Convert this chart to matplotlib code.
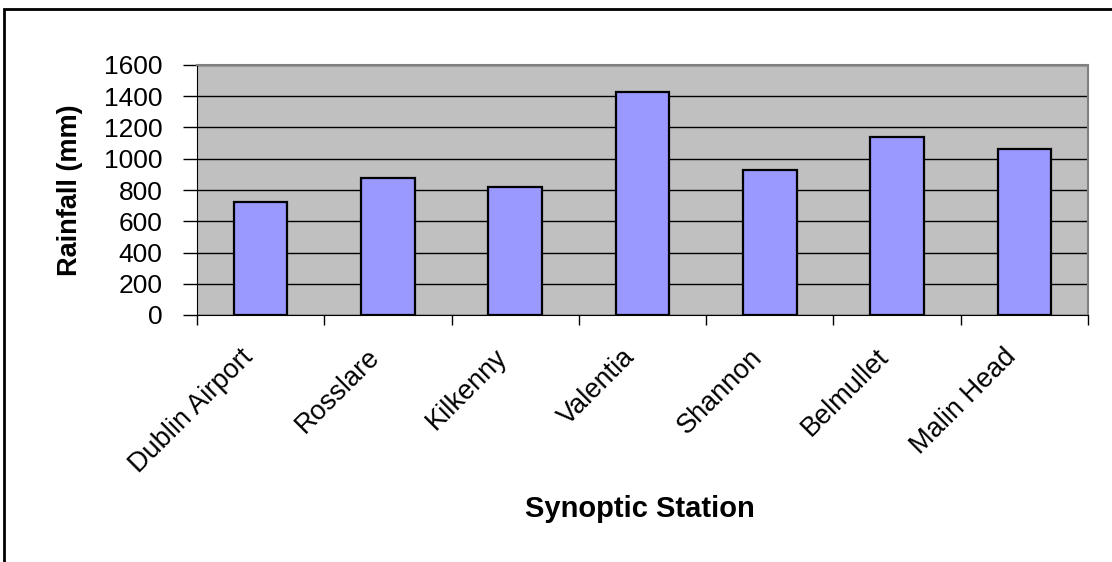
import matplotlib.pyplot as plt
from matplotlib.patches import Rectangle
from matplotlib.transforms import ScaledTranslation

stations = ['Dublin Airport', 'Rosslare', 'Kilkenny', 'Valentia', 'Shannon', 'Belmullet', 'Malin Head']
rainfall = [725, 875, 821, 1425, 928, 1141, 1062]
yticks = [0, 200, 400, 600, 800, 1000, 1200, 1400, 1600]

plt.rcParams['font.family'] = ['Liberation Sans', 'DejaVu Sans']

fig = plt.figure(figsize=(11.12, 5.62), dpi=100)
ax = fig.add_axes([197 / 1112, 1 - 315 / 562, (1088 - 197) / 1112, (315 - 65) / 562])

# outer chart border, clipped at right and bottom like the reference
fig.patches.append(Rectangle((4 / 1112, -0.05), 1.2, 1 - 9 / 562 + 0.05, transform=fig.transFigure,
                             fill=False, edgecolor='black', linewidth=2, zorder=0))

x = list(range(len(stations)))
ax.set_facecolor('#C0C0C0')
ax.bar(x, rainfall, width=0.42, color='#9999FF', edgecolor='black', linewidth=1.6, zorder=3)

ax.set_xlim(-0.5, len(stations) - 0.5)
ax.set_ylim(0, 1600)
ax.set_yticks(yticks)
ax.yaxis.grid(True, color='black', linewidth=1, zorder=0)
ax.set_axisbelow(True)

ax.set_xticks(x)
ax.set_xticklabels(stations, rotation=45, ha='right', rotation_mode='anchor', fontsize=19.5)
ax.set_xticks([i + 0.5 for i in range(-1, len(stations))], minor=True)
ax.tick_params(axis='x', which='major', length=0, pad=10)
ax.tick_params(axis='x', which='minor', length=7, width=1, direction='out')
ax.tick_params(axis='y', length=10, width=1, labelsize=19, pad=15)

# nudge rotated labels left/down like Excel places them
shift = ScaledTranslation(-21 / 100, -15 / 100, fig.dpi_scale_trans)
for lab in ax.get_xticklabels():
    lab.set_transform(lab.get_transform() + shift)

for side in ['top', 'right']:
    ax.spines[side].set_color('#808080')
    ax.spines[side].set_linewidth(1.5)
ax.spines['left'].set_color('black')
ax.spines['bottom'].set_color('black')

ax.set_ylabel('Rainfall (mm)', fontsize=19.5, fontweight='bold')
ax.yaxis.set_label_coords((83 - 197) / 891, 0.5)
fig.text(640 / 1112, 1 - 517 / 562, 'Synoptic Station', fontsize=21, fontweight='bold', ha='center', va='baseline')

fig.savefig('out.png', dpi=100)
